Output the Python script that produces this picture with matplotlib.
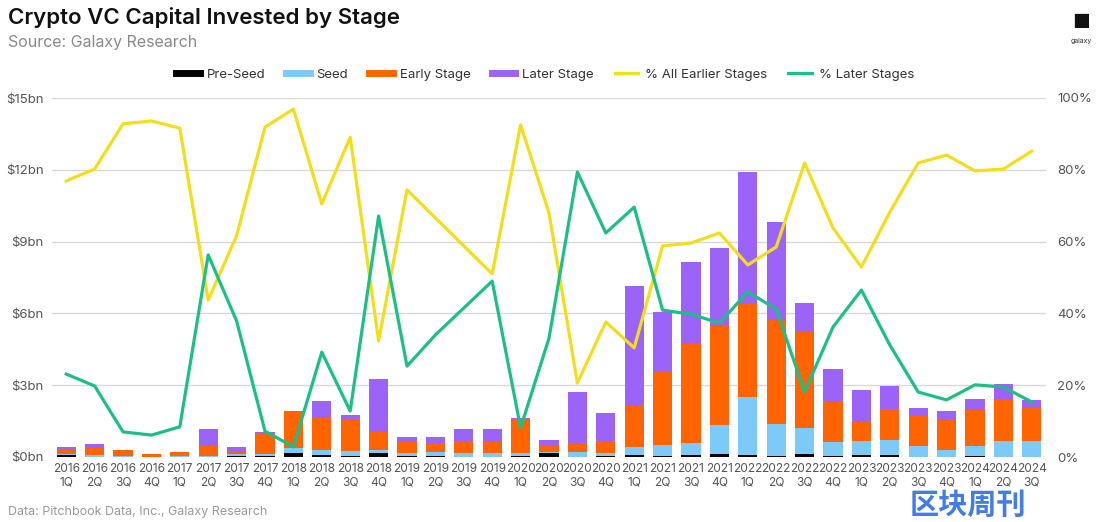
import matplotlib.pyplot as plt
from matplotlib.lines import Line2D
import numpy as np

plt.rcParams['font.family'] = ['Inter', 'DejaVu Sans']

# quarters
years = ["2016"] * 4 + ["2017"] * 4 + ["2018"] * 4 + ["2019"] * 4 + ["2020"] * 4 + \
        ["2021"] * 4 + ["2022"] * 4 + ["2023"] * 4 + ["2024"] * 3
quarters = (["1Q", "2Q", "3Q", "4Q"] * 9)[:35]
labels = [y + "\n" + q for y, q in zip(years, quarters)]

# capital invested, $bn
pre_seed = [0.08, 0.02, 0.0, 0.0, 0.0, 0.0, 0.05, 0.05, 0.17, 0.08, 0.03, 0.15,
            0.05, 0.05, 0.02, 0.02, 0.03, 0.15, 0.02, 0.05, 0.08, 0.06, 0.08, 0.12,
            0.1, 0.03, 0.12, 0.03, 0.07, 0.07, 0.02, 0.02, 0.03, 0.02, 0.02]
seed = [0.06, 0.08, 0.03, 0.02, 0.03, 0.05, 0.07, 0.08, 0.2, 0.22, 0.23, 0.15,
        0.12, 0.15, 0.13, 0.15, 0.15, 0.05, 0.2, 0.12, 0.35, 0.45, 0.5, 1.2,
        2.4, 1.35, 1.1, 0.6, 0.6, 0.65, 0.45, 0.28, 0.45, 0.65, 0.65]
early = [0.17, 0.3, 0.27, 0.1, 0.17, 0.42, 0.15, 0.88, 1.55, 1.35, 1.3, 0.75,
         0.45, 0.38, 0.5, 0.45, 1.4, 0.3, 0.35, 0.5, 1.7, 3.05, 4.2, 4.15,
         3.9, 4.35, 4.0, 1.7, 0.8, 1.3, 1.25, 1.3, 1.5, 1.75, 1.38]
later = [0.12, 0.13, 0.0, 0.0, 0.0, 0.7, 0.15, 0.03, 0.0, 0.68, 0.2, 2.2,
         0.2, 0.25, 0.52, 0.55, 0.05, 0.22, 2.15, 1.17, 5.0, 2.5, 3.35, 3.25,
         5.5, 4.1, 1.2, 1.35, 1.35, 0.95, 0.33, 0.33, 0.45, 0.63, 0.33]

# share of capital, %
pct_earlier = [76.9, 80.2, 92.8, 93.6, 91.6, 43.7, 61.6, 91.9, 96.9, 70.5, 89.1, 32.3,
               74.4, 66.6, 58.8, 51.0, 92.5, 68.0, 20.6, 37.6, 30.4, 58.8, 59.6, 62.4,
               53.5, 58.5, 81.9, 63.8, 52.9, 68.2, 81.9, 84.1, 79.7, 80.2, 85.2]
pct_later = [23.1, 19.8, 7.0, 6.1, 8.4, 56.3, 37.9, 7.2, 2.8, 29.2, 12.8, 67.1,
             25.3, 34.0, 41.5, 49.0, 8.1, 33.1, 79.4, 62.4, 69.6, 40.9, 39.8, 37.3,
             46.0, 41.2, 18.1, 36.2, 46.5, 31.2, 18.1, 15.9, 20.1, 19.5, 15.3]

c_pre = "#000000"
c_seed = "#7DC9F7"
c_early = "#FF6400"
c_later = "#9B63F8"
c_yel = "#F3DE1C"
c_grn = "#1DBF87"

x = np.arange(len(labels))
pre_seed = np.array(pre_seed)
seed = np.array(seed)
early = np.array(early)
later = np.array(later)

fig = plt.figure(figsize=(11, 5.22), dpi=100)
ax = fig.add_axes([52 / 1100, 1 - 457 / 522, (1046 - 52) / 1100, (457 - 98) / 522])

w = 0.67
ax.bar(x, pre_seed, w, color=c_pre, zorder=2)
ax.bar(x, seed, w, bottom=pre_seed, color=c_seed, zorder=2)
ax.bar(x, early, w, bottom=pre_seed + seed, color=c_early, zorder=2)
ax.bar(x, later, w, bottom=pre_seed + seed + early, color=c_later, zorder=2)

ax.set_ylim(0, 15)
ax.set_xlim(-0.5, len(x) - 0.5)
ax.set_yticks([0, 3, 6, 9, 12, 15])
ax.set_yticklabels(["$0bn", "$3bn", "$6bn", "$9bn", "$12bn", "$15bn"])
ax.set_xticks(x)
ax.set_xticklabels(labels)
ax.grid(axis="y", color="#d9d9d9", lw=1, zorder=0)
ax.set_axisbelow(True)
for s in ax.spines.values():
    s.set_visible(False)
ax.tick_params(length=0, labelsize=9.5, colors="#555555", pad=6)
ax.tick_params(axis="x", labelsize=8.6, pad=4)

ax2 = ax.twinx()
ax2.plot(x, pct_earlier, color=c_yel, lw=2.3, zorder=3)
ax2.plot(x, pct_later, color=c_grn, lw=2.3, zorder=3)
ax2.set_ylim(0, 100)
ax2.set_yticks([0, 20, 40, 60, 80, 100])
ax2.set_yticklabels(["0%", "20%", "40%", "60%", "80%", "100%"])
for s in ax2.spines.values():
    s.set_visible(False)
ax2.tick_params(length=0, labelsize=9.5, colors="#555555", pad=8)

handles = [Line2D([], [], color=c_pre, lw=5),
           Line2D([], [], color=c_seed, lw=5),
           Line2D([], [], color=c_early, lw=5),
           Line2D([], [], color=c_later, lw=5),
           Line2D([], [], color=c_yel, lw=2.3),
           Line2D([], [], color=c_grn, lw=2.3)]
names = ["Pre-Seed", "Seed", "Early Stage", "Later Stage", "% All Earlier Stages", "% Later Stages"]
fig.legend(handles, names, loc="center", bbox_to_anchor=(545 / 1100, 1 - 75 / 522), ncol=6,
           frameon=False, fontsize=9.5, handlelength=1.8, columnspacing=1.6, handletextpad=0.5,
           labelcolor="#333333")

fig.text(8 / 1100, 1 - 18 / 522, "Crypto VC Capital Invested by Stage", fontsize=16,
         fontweight="semibold", color="#111111", va="center")
fig.text(8 / 1100, 1 - 42 / 522, "Source: Galaxy Research", fontsize=11.5, color="#8a8a8a", va="center")
fig.text(8 / 1100, 1 - 512 / 522, "Data: Pitchbook Data, Inc., Galaxy Research", fontsize=9,
         color="#9a9a9a", va="center")

# logo
fig.text(1081 / 1100, 1 - 23 / 522, "\u25A0", fontsize=14, color="#111111", ha="center", va="center")
fig.text(1081 / 1100, 1 - 41 / 522, "galaxy", fontsize=5, color="#333333", ha="center", va="center")

# watermark
fig.text(968 / 1100, 1 - 505 / 522, "区块周刊", fontsize=21, fontweight="bold", color="#2D6FE3",
         ha="center", va="center", family=["Noto Sans CJK SC", "DejaVu Sans"], alpha=0.9)

fig.savefig("out.png", dpi=100, facecolor="white")
